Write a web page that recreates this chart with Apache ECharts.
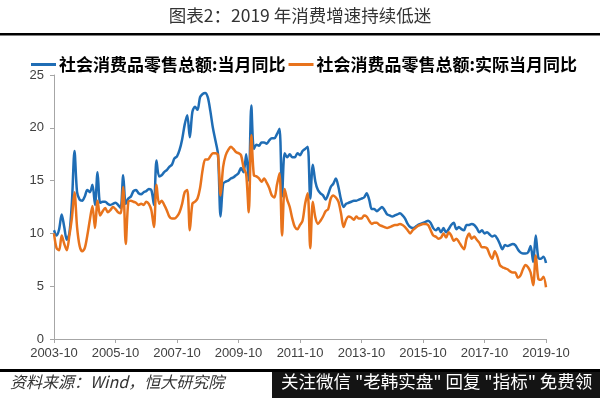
<!DOCTYPE html>
<html>
<head>
<meta charset="utf-8">
<title>图表2：2019 年消费增速持续低迷</title>
<style>
  html, body { margin: 0; padding: 0; background: #fff; }
  #chart { width: 600px; height: 398px; }
</style>
</head>
<body>
<div id="chart"></div>
<script src="https://cdn.jsdelivr.net/npm/echarts@6.0.0/dist/echarts.min.js"></script>
<script>
// x 轴刻度标签
var tickLabels = ['2003-10', '2005-10', '2007-10', '2009-10', '2011-10', '2013-10', '2015-10', '2017-10', '2019-10'];

// 社会消费品零售总额:当月同比 (%), 按年份分组, 2003 从 10 月开始
var nominal2003 = [10.3, 9.8, 10.4];
var nominal2004 = [11.8, 10.6, 9.4, 10.0, 13.0, 17.8, 13.9, 13.2, 13.1, 13.5, 14.1, 13.9];
var nominal2005 = [14.6, 12.7, 15.8, 12.9, 13.0, 13.0, 12.8, 12.7, 12.8, 12.9, 12.7, 12.4];
var nominal2006 = [15.5, 12.8, 13.3, 13.5, 14.0, 14.1, 13.8, 13.7, 13.9, 14.0, 14.2, 14.1];
var nominal2007 = [12.7, 16.9, 15.4, 15.5, 15.8, 16.0, 16.3, 16.5, 17.1, 17.3, 17.9, 18.9];
var nominal2008 = [20.3, 21.2, 19.1, 21.5, 22.0, 21.7, 22.9, 23.2, 23.3, 22.9, 21.6, 20.0];
var nominal2009 = [18.8, 17.5, 11.6, 14.7, 14.9, 15.0, 15.2, 15.3, 15.5, 15.7, 16.2, 15.8];
var nominal2010 = [17.5, 15.0, 22.1, 18.0, 18.4, 18.3, 18.6, 18.6, 18.5, 18.8, 19.0, 19.0];
var nominal2011 = [19.4, 19.9, 13.5, 17.6, 17.2, 17.5, 17.2, 17.2, 17.6, 17.4, 17.8, 18.0];
var nominal2012 = [18.2, 13.3, 16.5, 14.9, 14.1, 13.8, 13.6, 13.2, 13.7, 14.4, 14.7, 15.2];
var nominal2013 = [14.4, 13.2, 12.5, 12.8, 12.9, 13.0, 13.1, 13.1, 13.2, 13.3, 13.4, 13.8];
var nominal2014 = [13.2, 12.3, 12.3, 12.1, 12.3, 12.5, 12.2, 11.8, 11.7, 11.6, 11.7, 11.8];
var nominal2015 = [11.9, 11.7, 11.4, 10.9, 10.6, 10.5, 10.6, 10.8, 10.9, 11.0, 11.1, 11.2];
var nominal2016 = [11.0, 10.5, 10.3, 10.5, 10.1, 10.5, 10.1, 10.4, 10.8, 11.0, 10.4, 10.6];
var nominal2017 = [10.4, 10.3, 10.8, 10.8, 10.9, 10.8, 10.5, 10.1, 10.3, 10.0, 10.1, 9.9];
var nominal2018 = [9.7, 9.8, 9.5, 9.0, 8.5, 8.9, 8.8, 8.9, 9.0, 8.9, 8.5, 8.2];
var nominal2019 = [8.1, 8.1, 8.2, 8.8, 7.3, 9.8, 7.7, 7.6, 7.8, 7.2];

// 社会消费品零售总额:实际当月同比 (%)
var real2003 = [10.0, 8.6, 8.4];
var real2004 = [9.8, 9.0, 8.4, 9.8, 11.5, 13.9, 10.6, 8.8, 8.3, 8.6, 9.8, 11.3];
var real2005 = [12.6, 10.5, 13.1, 11.7, 12.1, 12.4, 12.0, 12.2, 12.5, 12.3, 12.0, 11.9];
var real2006 = [14.4, 9.0, 13.0, 13.1, 13.0, 12.9, 12.7, 12.8, 12.7, 13.0, 12.8, 12.2];
var real2007 = [10.6, 14.6, 12.8, 13.1, 12.7, 12.2, 11.6, 11.4, 11.4, 11.6, 12.0, 12.8];
var real2008 = [13.9, 14.1, 10.3, 12.8, 13.0, 13.3, 14.3, 16.0, 17.0, 17.0, 17.3, 17.6];
var real2009 = [17.6, 17.4, 13.6, 16.3, 17.4, 17.9, 18.2, 18.0, 17.7, 17.6, 17.4, 16.2];
var real2010 = [15.6, 12.0, 19.3, 15.5, 15.4, 15.2, 14.9, 15.2, 14.8, 14.3, 13.6, 13.4];
var real2011 = [14.6, 15.7, 9.8, 14.2, 13.2, 12.5, 11.4, 10.6, 10.4, 10.8, 11.2, 12.8];
var real2012 = [13.8, 8.6, 13.0, 11.5, 10.9, 11.2, 11.6, 12.1, 12.3, 13.3, 13.6, 13.4];
var real2013 = [13.0, 11.9, 10.6, 11.3, 11.6, 11.5, 11.3, 11.6, 11.4, 11.4, 11.7, 11.6];
var real2014 = [11.2, 10.9, 11.0, 11.0, 10.8, 10.7, 10.6, 10.5, 10.6, 10.7, 10.8, 10.8];
var real2015 = [10.9, 10.8, 10.6, 10.3, 10.0, 10.3, 10.5, 10.7, 10.8, 10.9, 10.9, 10.8];
var real2016 = [10.3, 9.8, 9.7, 9.5, 9.6, 10.0, 9.6, 10.1, 9.8, 9.3, 9.5, 9.2];
var real2017 = [8.8, 8.5, 9.5, 10.0, 9.5, 9.7, 9.4, 9.1, 8.7, 8.7, 8.6, 8.0];
var real2018 = [7.6, 8.3, 7.8, 7.0, 6.8, 6.7, 6.6, 6.4, 6.3, 6.3, 5.8, 6.0];
var real2019 = [6.6, 7.0, 6.8, 6.3, 5.1, 7.9, 5.7, 5.6, 5.9, 4.9];

var nominal = [].concat(nominal2003, nominal2004, nominal2005, nominal2006, nominal2007,
    nominal2008, nominal2009, nominal2010, nominal2011, nominal2012, nominal2013,
    nominal2014, nominal2015, nominal2016, nominal2017, nominal2018, nominal2019);
var real = [].concat(real2003, real2004, real2005, real2006, real2007, real2008,
    real2009, real2010, real2011, real2012, real2013, real2014, real2015, real2016,
    real2017, real2018, real2019);

// 月份类目: 2003-10 起
var months = [];
for (var i = 0; i < nominal.length; i++) {
    var y = 2003 + Math.floor((9 + i) / 12);
    var mo = (9 + i) % 12 + 1;
    months.push(y + '-' + (mo < 10 ? '0' + mo : mo));
}

var showTick = function(idx, val) {
    return tickLabels.indexOf(val) >= 0;
};

var myChart = echarts.init(document.getElementById('chart'));

var option = {
    backgroundColor: '#fff',
    animation: false,
    color: ['#1f6db5', '#e8731c'],
    grid: {
        left: 54,
        right: 54,
        top: 75,
        bottom: 59
    },
    legend: {
        left: 26,
        top: 51,
        icon: 'rect',
        itemWidth: 25,
        itemHeight: 3,
        itemGap: 3,
        textStyle: {
            fontFamily: 'Noto Sans CJK SC',
            fontSize: 17,
            fontWeight: 'bold',
            color: '#000',
            padding: [0, 0, 0, -2]
        },
        data: ['社会消费品零售总额:当月同比', '社会消费品零售总额:实际当月同比']
    },
    xAxis: {
        type: 'category',
        boundaryGap: false,
        data: months,
        axisLine: { lineStyle: { color: '#a6a6a6', width: 1 } },
        axisTick: { show: true, interval: showTick, length: 4, lineStyle: { color: '#a6a6a6' } },
        axisLabel: {
            interval: showTick,
            color: '#404040',
            fontSize: 13,
            fontFamily: 'Liberation Sans',
            margin: 8
        },
        splitLine: { show: false }
    },
    yAxis: {
        type: 'value',
        min: 0,
        max: 25,
        interval: 5,
        axisLine: { show: true, lineStyle: { color: '#a6a6a6', width: 1 } },
        axisTick: { show: true, length: 4, lineStyle: { color: '#a6a6a6' } },
        axisLabel: {
            color: '#404040',
            fontSize: 13,
            fontFamily: 'Liberation Sans',
            margin: 10
        },
        splitLine: { show: false }
    },
    series: [{
        name: '社会消费品零售总额:当月同比',
        type: 'line',
        data: nominal,
        showSymbol: false,
        smooth: 0.3,
        lineStyle: { width: 2.5 }
    }, {
        name: '社会消费品零售总额:实际当月同比',
        type: 'line',
        data: real,
        showSymbol: false,
        smooth: 0.3,
        lineStyle: { width: 2.5 }
    }],
    graphic: [{
        type: 'text',
        left: 'center',
        top: 7,
        style: {
            text: '图表2：2019 年消费增速持续低迷',
            fontFamily: 'Noto Sans CJK SC',
            fontSize: 17.5,
            fill: '#333'
        }
    }, {
        type: 'rect',
        shape: { x: 0, y: 33, width: 600, height: 2.5 },
        style: { fill: '#000' }
    }, {
        type: 'rect',
        shape: { x: 0, y: 369, width: 600, height: 3 },
        style: { fill: '#000' }
    }, {
        type: 'text',
        left: 10,
        top: 374,
        style: {
            text: '资料来源：Wind，恒大研究院',
            fontFamily: 'Noto Sans CJK SC',
            fontSize: 16,
            fontStyle: 'italic',
            fill: '#333'
        }
    }, {
        type: 'rect',
        shape: { x: 272, y: 372, width: 328, height: 26 },
        style: { fill: '#141414' }
    }, {
        type: 'text',
        left: 281,
        top: 373,
        style: {
            text: '关注微信 "老韩实盘" 回复 "指标" 免费领',
            fontFamily: 'Noto Sans CJK SC',
            fontSize: 17.5,
            fill: '#fff'
        }
    }]
};

myChart.setOption(option);
addEventListener('resize', myChart.resize);
</script>
</body>
</html>
